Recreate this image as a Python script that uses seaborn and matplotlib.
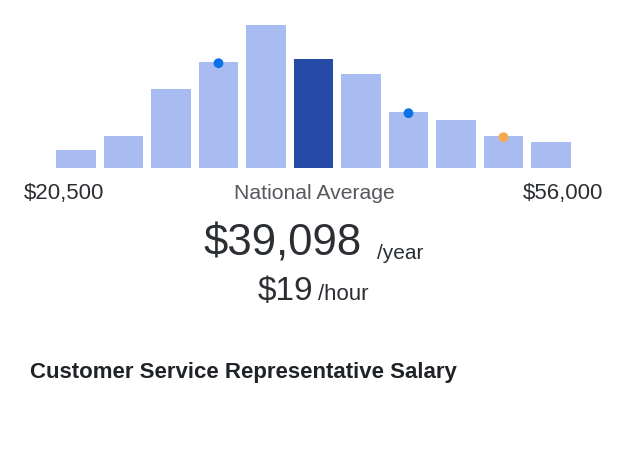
import matplotlib
matplotlib.use("Agg")
import matplotlib.pyplot as plt
import seaborn as sns
import pandas as pd

# ---- data ----
bins = list(range(11))
counts = [18, 32, 79, 106, 143, 109, 94, 56, 48, 32, 26]
highlight_bin = 5
dot_bins = [3, 7, 9]
dot_colors = ["#0b73e8", "#0b73e8", "#f8a84c"]
low_label = "$20,500"
high_label = "$56,000"
mid_label = "National Average"
avg_year = "$39,098"
avg_hour = "$19"
title = "Customer Service Representative Salary"

LIGHT = "#a9bcf2"
DARK = "#264ba6"

sns.set_theme(style="white")
plt.rcParams["font.family"] = ["Liberation Sans", "DejaVu Sans"]

W, H = 624, 465
fig = plt.figure(figsize=(W / 100, H / 100), dpi=100)
fig.patch.set_facecolor("white")

def fx(px):
    return px / W

def fy(py):
    return (H - py) / H

x0, x1 = 52.25, 574.75
base, top = 168, 18
ax = fig.add_axes([fx(x0), fy(base), fx(x1) - fx(x0), fy(top) - fy(base)])

df = pd.DataFrame({"bin": [str(b) for b in bins], "count": counts})
palette = {str(b): (DARK if b == highlight_bin else LIGHT) for b in bins}
sns.barplot(data=df, x="bin", y="count", hue="bin", palette=palette,
            width=0.842, saturation=1, legend=False, ax=ax, edgecolor="none")

dx = dot_bins
dy = [counts[b] - 1.2 for b in dot_bins]
ax.scatter(dx, dy, s=50, c=dot_colors, zorder=5, linewidths=0)

ax.set_xlim(-0.5, 10.5)
ax.set_ylim(0, base - top)
ax.axis("off")

dark_txt = "#2b2f33"
fig.text(fx(24.3), fy(199.3), low_label, fontsize=16, color=dark_txt,
         ha="left", va="baseline")
fig.text(fx(603), fy(199.3), high_label, fontsize=16, color=dark_txt,
         ha="right", va="baseline")
fig.text(fx(314.7), fy(199.3), mid_label, fontsize=15.2, color="#55595e",
         ha="center", va="baseline")

fig.text(fx(362), fy(255.5), avg_year, fontsize=31.5, color=dark_txt,
         ha="right", va="baseline")
fig.text(fx(377), fy(259), "/year", fontsize=15, color=dark_txt,
         ha="left", va="baseline")

fig.text(fx(313.5), fy(299.5), avg_hour, fontsize=24, color=dark_txt,
         ha="right", va="baseline")
fig.text(fx(318), fy(299.5), "/hour", fontsize=16, color=dark_txt,
         ha="left", va="baseline")

fig.text(fx(30), fy(377.5), title, fontsize=16, fontweight="bold",
         color="#1f2226", ha="left", va="baseline")

fig.savefig("out.png", dpi=100, facecolor="white")
